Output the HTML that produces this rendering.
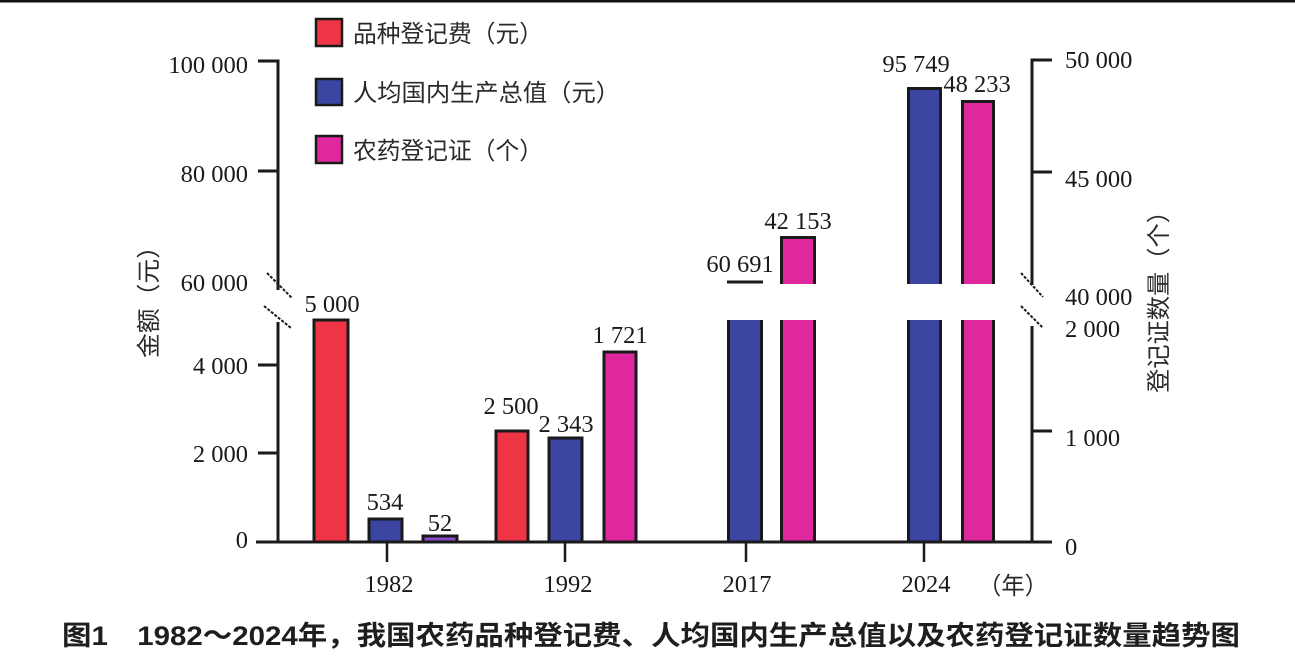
<!DOCTYPE html>
<html><head><meta charset="utf-8"><style>
html,body{margin:0;padding:0;background:#fff;}
svg{display:block;}
.n{font-family:"Liberation Serif",serif;font-size:24.5px;fill:#1a1a1a;}
.c{font-family:"Liberation Sans","Noto Sans CJK SC",sans-serif;font-size:24px;fill:#2a2a2a;}
.cap{font-family:"Liberation Sans","Noto Sans CJK SC",sans-serif;font-size:27px;font-weight:bold;fill:#1e1e1e;}
</style></head><body>
<svg width="1295" height="663" viewBox="0 0 1295 663" xmlns="http://www.w3.org/2000/svg">
<rect x="0" y="0" width="1295" height="663" fill="#fff"/>
<rect x="0" y="0" width="1295" height="2.5" fill="#111"/>

<!-- Legend -->
<rect x="316" y="19" width="26" height="27" fill="#ee3445" stroke="#1a1a1a" stroke-width="2.5"/>
<rect x="316" y="79" width="26" height="26" fill="#3a46a2" stroke="#1a1a1a" stroke-width="2.5"/>
<rect x="316" y="136" width="26" height="27" fill="#e0289e" stroke="#1a1a1a" stroke-width="2.5"/>
<text class="c" x="353" y="42" textLength="190" lengthAdjust="spacingAndGlyphs">品种登记费（元）</text>
<text class="c" x="353" y="101" textLength="267" lengthAdjust="spacingAndGlyphs">人均国内生产总值（元）</text>
<text class="c" x="353" y="159" textLength="190" lengthAdjust="spacingAndGlyphs">农药登记证（个）</text>

<!-- Bars -->
<g stroke="#1a1a1a" stroke-width="3">
  <!-- 1982 -->
  <rect x="314" y="320" width="34" height="222" fill="#ee3445"/>
  <rect x="369" y="519" width="33" height="23" fill="#3a46a2"/>
  <rect x="423" y="536" width="34" height="6" fill="#8a4cc8"/>
  <!-- 1992 -->
  <rect x="496" y="431" width="32" height="111" fill="#ee3445"/>
  <rect x="549" y="438" width="33" height="104" fill="#3a46a2"/>
  <rect x="604" y="352" width="32" height="190" fill="#e0289e"/>
</g>
<!-- 2017 & 2024 split bars -->
<g>
  <!-- 2017 blue lower -->
  <rect x="727" y="320" width="36" height="222" fill="#3a46a2"/>
  <line x1="728.5" y1="320" x2="728.5" y2="542" stroke="#1a1a1a" stroke-width="3"/>
  <line x1="761.5" y1="320" x2="761.5" y2="542" stroke="#1a1a1a" stroke-width="3"/>
  <line x1="727" y1="282" x2="763" y2="282" stroke="#1a1a1a" stroke-width="3"/>
  <!-- 2017 magenta -->
  <rect x="780" y="236" width="36" height="48" fill="#e0289e"/>
  <path d="M781.5 284 V237.5 H814.5 V284" fill="none" stroke="#1a1a1a" stroke-width="3"/>
  <rect x="780" y="320" width="36" height="222" fill="#e0289e"/>
  <line x1="781.5" y1="320" x2="781.5" y2="542" stroke="#1a1a1a" stroke-width="3"/>
  <line x1="814.5" y1="320" x2="814.5" y2="542" stroke="#1a1a1a" stroke-width="3"/>
  <!-- 2024 blue -->
  <rect x="907" y="87" width="35" height="197" fill="#3a46a2"/>
  <path d="M908.5 284 V88.5 H940.5 V284" fill="none" stroke="#1a1a1a" stroke-width="3"/>
  <rect x="907" y="320" width="35" height="222" fill="#3a46a2"/>
  <line x1="908.5" y1="320" x2="908.5" y2="542" stroke="#1a1a1a" stroke-width="3"/>
  <line x1="940.5" y1="320" x2="940.5" y2="542" stroke="#1a1a1a" stroke-width="3"/>
  <!-- 2024 magenta -->
  <rect x="961" y="100" width="34" height="184" fill="#e0289e"/>
  <path d="M962.5 284 V101.5 H993.5 V284" fill="none" stroke="#1a1a1a" stroke-width="3"/>
  <rect x="961" y="320" width="34" height="222" fill="#e0289e"/>
  <line x1="962.5" y1="320" x2="962.5" y2="542" stroke="#1a1a1a" stroke-width="3"/>
  <line x1="993.5" y1="320" x2="993.5" y2="542" stroke="#1a1a1a" stroke-width="3"/>
</g>

<!-- Axes -->
<g stroke="#1a1a1a" stroke-width="3" fill="none">
  <line x1="278" y1="59.5" x2="278" y2="290"/>
  <line x1="278" y1="322" x2="278" y2="543"/>
  <line x1="256" y1="542" x2="1052" y2="542"/>
  <line x1="258" y1="61" x2="278" y2="61"/>
  <line x1="258" y1="171" x2="278" y2="171"/>
  <line x1="258" y1="365" x2="278" y2="365"/>
  <line x1="258" y1="453" x2="278" y2="453"/>
  <line x1="1032" y1="58.5" x2="1032" y2="285"/>
  <line x1="1032" y1="326" x2="1032" y2="543"/>
  <line x1="1032" y1="60" x2="1052" y2="60"/>
  <line x1="1032" y1="172" x2="1052" y2="172"/>
  <line x1="1032" y1="431" x2="1052" y2="431"/>
</g>
<g stroke="#1a1a1a" stroke-width="2.5">
  <line x1="387" y1="542" x2="387" y2="562"/>
  <line x1="565" y1="542" x2="565" y2="562"/>
  <line x1="746" y1="542" x2="746" y2="562"/>
  <line x1="924" y1="542" x2="924" y2="562"/>
</g>
<!-- Break marks -->
<g stroke="#1a1a1a" stroke-width="2" stroke-dasharray="3 1.5">
  <line x1="267" y1="273" x2="292" y2="298"/>
  <line x1="264" y1="306" x2="291" y2="328"/>
  <line x1="1021" y1="273" x2="1043" y2="297"/>
  <line x1="1021" y1="306" x2="1043" y2="328"/>
</g>

<!-- Left tick labels -->
<g class="n" text-anchor="end">
  <text x="248" y="73">100 000</text>
  <text x="248" y="182">80 000</text>
  <text x="248" y="291">60 000</text>
  <text x="248" y="374">4 000</text>
  <text x="248" y="462">2 000</text>
  <text x="248" y="548">0</text>
</g>
<!-- Right tick labels -->
<g class="n">
  <text x="1065" y="68">50 000</text>
  <text x="1065" y="187">45 000</text>
  <text x="1065" y="305">40 000</text>
  <text x="1065" y="337">2 000</text>
  <text x="1065" y="446">1 000</text>
  <text x="1065" y="555">0</text>
</g>
<!-- Year labels -->
<g class="n" text-anchor="middle">
  <text x="389" y="592">1982</text>
  <text x="568" y="592">1992</text>
  <text x="747" y="592">2017</text>
  <text x="926" y="592">2024</text>
</g>
<text class="c" x="978" y="594" textLength="70" lengthAdjust="spacingAndGlyphs">（年）</text>

<!-- Data labels -->
<g class="n" text-anchor="middle">
  <text x="332" y="312">5 000</text>
  <text x="385" y="510">534</text>
  <text x="440" y="531">52</text>
  <text x="511" y="414">2 500</text>
  <text x="566" y="432">2 343</text>
  <text x="620" y="343">1 721</text>
  <text x="740" y="272">60 691</text>
  <text x="798" y="229">42 153</text>
  <text x="916" y="72">95 749</text>
  <text x="977" y="92">48 233</text>
</g>

<!-- Axis titles -->
<text class="c" transform="translate(157,296) rotate(-90)" text-anchor="middle" textLength="124" lengthAdjust="spacingAndGlyphs">金额（元）</text>
<text class="c" transform="translate(1167,296) rotate(-90)" text-anchor="middle" textLength="194" lengthAdjust="spacingAndGlyphs">登记证数量（个）</text>

<!-- Caption -->
<text class="cap" x="62" y="645" textLength="1178" lengthAdjust="spacingAndGlyphs">图1　1982～2024年，我国农药品种登记费、人均国内生产总值以及农药登记证数量趋势图</text>
</svg>
</body></html>
